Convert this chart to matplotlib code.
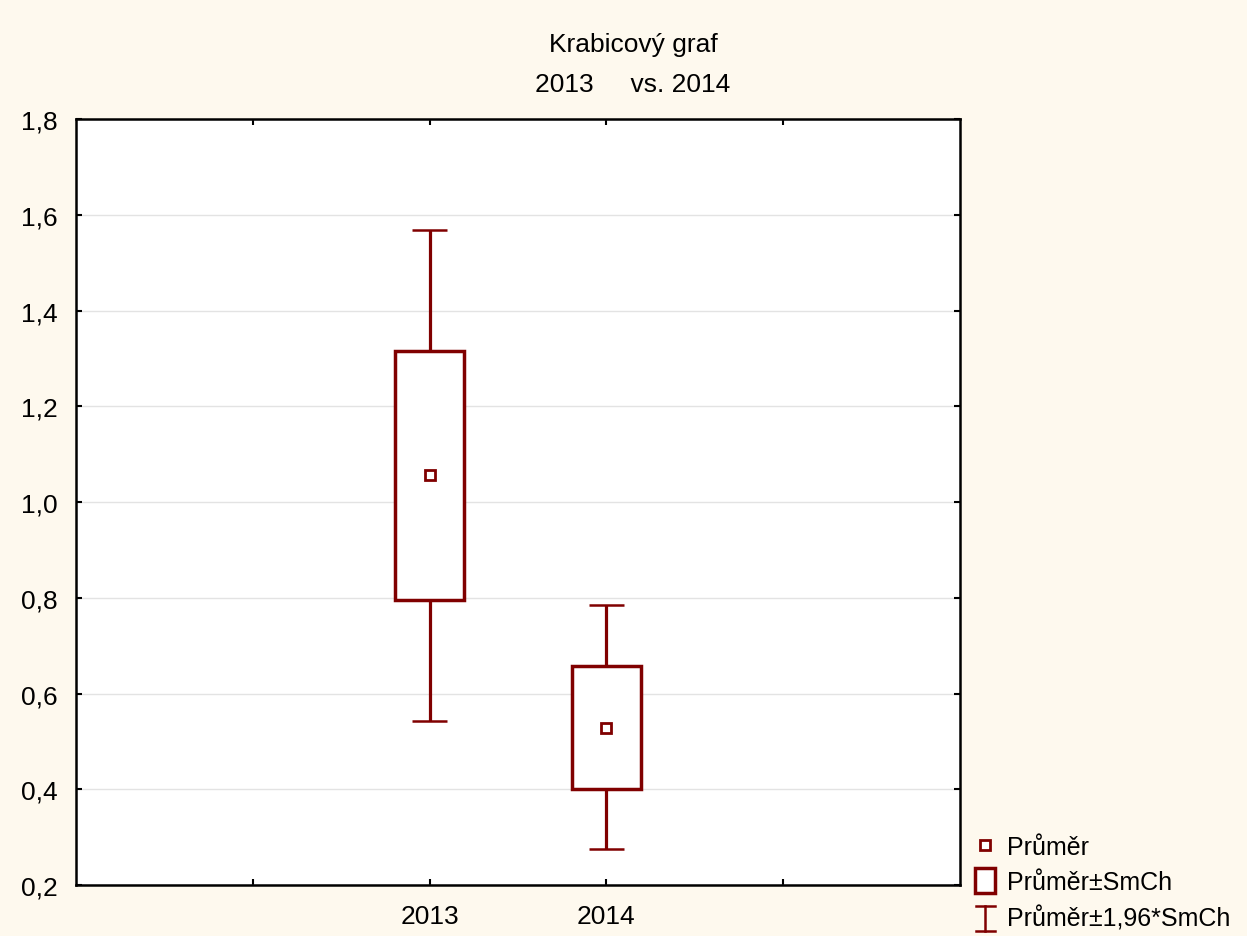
import matplotlib
matplotlib.use("Agg")
import matplotlib.pyplot as plt
from matplotlib.lines import Line2D
from matplotlib.patches import Rectangle
from matplotlib.legend_handler import HandlerBase

plt.rcParams['font.family'] = ['Liberation Sans', 'DejaVu Sans']

categories = ['2013', '2014']
means = [1.057, 0.527]
box_low = [0.796, 0.401]
box_high = [1.316, 0.658]
whisk_low = [0.543, 0.275]
whisk_high = [1.568, 0.784]
positions = [2, 3]
y_ticks = [0.2, 0.4, 0.6, 0.8, 1.0, 1.2, 1.4, 1.6, 1.8]
y_tick_labels = ['0,2', '0,4', '0,6', '0,8', '1,0', '1,2', '1,4', '1,6', '1,8']
x_ticks = [1, 2, 3, 4]
x_tick_labels = ['', '2013', '2014', '']

col = '#800000'
bg = '#FEF9EE'

fig = plt.figure(figsize=(12.47, 9.37), dpi=100, facecolor=bg)
ax = fig.add_axes([76/1247, 1-886/937, (960-76)/1247, (886-120)/937])
ax.set_facecolor('white')

box_w = 0.39
cap_w = 0.2
for p, m, bl, bh, wl, wh in zip(positions, means, box_low, box_high, whisk_low, whisk_high):
    ax.vlines(p, bh, wh, color=col, lw=2.3, zorder=3)
    ax.vlines(p, wl, bl, color=col, lw=2.3, zorder=3)
    ax.hlines([wl, wh], p - cap_w/2, p + cap_w/2, color=col, lw=1.8, zorder=3)
    ax.bar(p, bh - bl, bottom=bl, width=box_w, facecolor='white', edgecolor=col, lw=2.5, zorder=4)
    ax.plot([p], [m], marker='s', ms=7.5, mfc='white', mec=col, mew=2.0, ls='none', zorder=5)

ax.set_xlim(0, 5)
ax.set_ylim(0.2, 1.8)
ax.set_yticks(y_ticks)
ax.set_yticklabels(y_tick_labels)
ax.set_xticks(x_ticks)
ax.set_xticklabels(x_tick_labels)
ax.grid(axis='y', color='#e3e3e3', lw=1.0, zorder=0)
ax.set_axisbelow(True)
ax.tick_params(direction='in', length=4, width=1.5, top=True, right=True, labelsize=19, colors='black')
ax.tick_params(axis='y', pad=13)
ax.tick_params(axis='x', pad=14)
for s in ax.spines.values():
    s.set_linewidth(1.8)
    s.set_color('black')

fig.text(633/1247, 1-45/937, 'Krabicový graf', ha='center', va='center', fontsize=19)
fig.text(633/1247, 1-85/937, '2013     vs. 2014', ha='center', va='center', fontsize=19)


class WhiskerHandler(HandlerBase):
    def create_artists(self, legend, orig_handle, xdescent, ydescent, width, height, fontsize, trans):
        cx = width / 2 - xdescent
        y0 = -ydescent - height * 0.3
        y1 = -ydescent + height * 1.15
        hw = width * 0.42
        l1 = Line2D([cx, cx], [y0, y1], color=col, lw=1.8, transform=trans)
        l2 = Line2D([cx - hw, cx + hw], [y0, y0], color=col, lw=1.8, transform=trans)
        l3 = Line2D([cx - hw, cx + hw], [y1, y1], color=col, lw=1.8, transform=trans)
        return [l1, l2, l3]


class BoxHandler(HandlerBase):
    def create_artists(self, legend, orig_handle, xdescent, ydescent, width, height, fontsize, trans):
        s = height * 1.45
        cx = width / 2 - xdescent
        cy = height / 2 - ydescent
        r = Rectangle((cx - width*0.45, cy - s/2), width*0.9, s, facecolor='white', edgecolor=col, lw=2.5, transform=trans)
        return [r]


class WhiskerProxy:
    pass


class BoxProxy:
    pass


mean_handle = Line2D([], [], marker='s', ms=7, mfc='white', mec=col, mew=2.0, ls='none')
handles = [mean_handle, BoxProxy(), WhiskerProxy()]
labels = ['Průměr', 'Průměr±SmCh', 'Průměr±1,96*SmCh']
leg = fig.legend(handles, labels, handler_map={BoxProxy: BoxHandler(), WhiskerProxy: WhiskerHandler()},
                 loc='center left', bbox_to_anchor=(974/1247, 1-884/937), frameon=False, fontsize=18,
                 handlelength=0.9, handletextpad=0.42, labelspacing=0.45, borderaxespad=0, borderpad=0)

fig.savefig('out.png', dpi=100, facecolor=bg)
